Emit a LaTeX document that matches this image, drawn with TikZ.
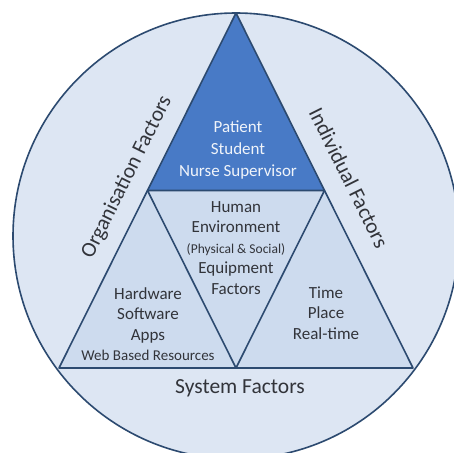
\documentclass[tikz,border=0pt]{standalone}
\usepackage{fontspec}
\setmainfont{Carlito}
\usetikzlibrary{positioning, calc}
\definecolor{ringcolor}{RGB}{221,230,243}
\definecolor{sidecolor}{RGB}{205,219,238}
\definecolor{topcolor}{RGB}{72,122,198}
\definecolor{edgecolor}{RGB}{44,74,112}
\definecolor{labelcolor}{RGB}{50,52,58}

\begin{document}
\begin{tikzpicture}[x=1pt, y=-1pt, line width=1.6pt,
  intext/.style={align=center, text=labelcolor, font=\fontsize{17}{20.5}\selectfont},
  toptext/.style={align=center, text=white!92!topcolor, font=\fontsize{17}{22}\selectfont},
  ringtext/.style={text=labelcolor, inner sep=1pt, font=\fontsize{21.5}{24}\selectfont}]
\useasboundingbox (0,0) rectangle (454,452);
\fill[white] (0,0) rectangle (454,452);

% outer circle
\draw[edgecolor, fill=ringcolor] (236,236) circle[radius=223pt];

% triangle corners and mid points
\coordinate (apex) at (236,13);
\coordinate (bl) at (59,368);
\coordinate (br) at (413,368);
\coordinate (ml) at ($(apex)!0.5!(bl)$);
\coordinate (mr) at ($(apex)!0.5!(br)$);
\coordinate (mb) at ($(bl)!0.5!(br)$);

\fill[sidecolor] (apex) -- (bl) -- (br) -- cycle;
\fill[topcolor] (apex) -- (ml) -- (mr) -- cycle;
\draw[edgecolor, line join=round] (apex) -- (bl) -- (br) -- cycle;
\draw[edgecolor, line join=round] (ml) -- (mr) -- (mb) -- cycle;

% texts inside
\node[toptext] (people) at (238,150) {Patient\\Student\\Nurse Supervisor};
\node[intext] (human) at (236,248) {Human\\Environment\\{\fontsize{13.5}{20.5}\selectfont(Physical \& Social)}\\Equipment\\Factors};
\node[intext] (hardware) at (148,324) {Hardware\\Software\\Apps\\{\fontsize{15}{20.5}\selectfont Web Based Resources}};
\node[intext] (time) at (326,313) {Time\\Place\\Real-time};

% texts round the triangle
\node[ringtext, rotate=63.5] (orga) at (127,177) {Organisation Factors};
\node[ringtext, rotate=-63.5] (indiv) at (349,178) {Individual Factors};
\node[ringtext] (system) at (240,388) {System Factors};
\end{tikzpicture}
\end{document}
